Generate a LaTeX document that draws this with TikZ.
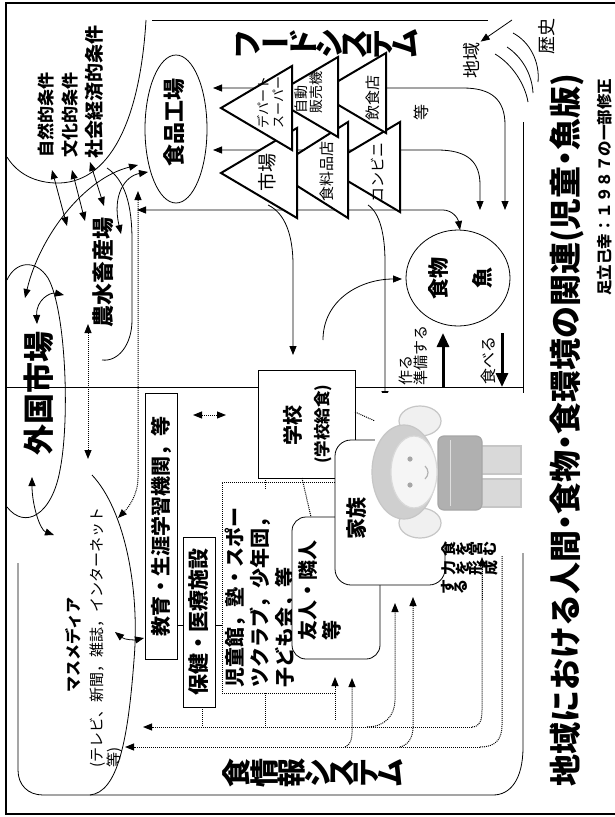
\documentclass[tikz,border=0pt]{standalone}
\usepackage{fontspec}
\usepackage{graphicx}
\newfontfamily\jp{Noto Sans CJK JP}
\usetikzlibrary{arrows.meta}
\newcommand\sz[2]{\fontsize{#1}{#2}\selectfont}
\newcommand\R[1]{\rotatebox[origin=c]{90}{#1}}
\newcommand\hdot{\makebox[0.5em]{・}}
\begin{document}
\begin{tikzpicture}[x=1pt,y=-1pt,line width=0.8pt,
  lab/.style={rotate=90,inner sep=0pt,font=\jp\bfseries},
  thinlab/.style={rotate=90,inner sep=0pt,font=\jp},
  vlab/.style={inner sep=0pt,font=\jp\bfseries},
  tip/.style={-{Triangle[length=9pt,width=7pt]}},
  tips/.style={{Triangle[length=9pt,width=7pt]}-{Triangle[length=9pt,width=7pt]}},
  dots/.style={line width=1pt,dash pattern=on 1pt off 1pt},
  dtip/.style={dots,-{Triangle[length=9pt,width=7pt]}},
  dtips/.style={dots,{Triangle[length=9pt,width=7pt]}-{Triangle[length=9pt,width=7pt]}},
  tri/.style={draw,fill=white,line width=2pt,line join=miter},
  bigtip/.style={line width=3pt,-{Triangle[length=14pt,width=12pt]}},
]
\useasboundingbox (0,0) rectangle (614,817);

% ---------- frames and dividing lines ----------
\draw (152,20) -- (488,20);
\draw (523,122) -- (523,403);
\draw (523,550) -- (523,747) .. controls (523,780) and (510,795) .. (493,795) -- (43,795)
      .. controls (28,795) and (18,785) .. (18,770) -- (18,563);
\draw (7,387) -- (523,387);

% region of natural / cultural / socio-economic conditions
\draw (146,20) .. controls (140,120) and (110,185) .. (55,183) .. controls (30,182) and (15,170) .. (7,157);
% foreign market enclosure
\draw (7,280) .. controls (15,262) and (35,258) .. (48,278) .. controls (66,310) and (70,420) .. (60,470)
      .. controls (52,515) and (25,530) .. (7,507);
% farm enclosure (open arc)
\draw (107,168) .. controls (125,180) and (132,205) .. (132,240) -- (132,320) .. controls (132,345) and (118,362) .. (102,360);
% mass media enclosure
\draw (92,475) .. controls (125,510) and (140,590) .. (134,660) .. controls (128,740) and (118,792) .. (90,795);

% ---------- history / region ----------
\node[thinlab,font=\jp\sz{18}{18}] (hist) at (547,36) {歴史};
\node[thinlab,font=\jp\sz{18}{18}] (area) at (472,60) {地域};
\draw[tip] (512,20) -- (area.south east);
\draw (513,33) .. controls (530,42) and (540,62) .. (538,82);
\draw (507,47) .. controls (522,57) and (532,74) .. (533,93);
\draw (495,54) .. controls (512,64) and (525,84) .. (528,102);

% ---------- titles ----------
\node[lab,font=\jp\bfseries\sz{32}{32}] (title) at (567,430) {地域における人間\hdot 食物\hdot 食環境の関連(児童\hdot 魚版)};
\node[lab,font=\jp\bfseries\sz{15.5}{15.5}] (src) at (605,187) {足立己幸：１９８７の一部修正};
\node[vlab,font=\jp\bfseries\sz{30}{30}] (fsys) at (327,44) {\R{フ}ー\R{ド}\R{シ}\R{ス}\R{テ}\R{ム}};
\node[vlab,font=\jp\bfseries\sz{29}{29}] (isys) at (313,773) {\R{食}\R{情}\R{報}\R{シ}\R{ス}\R{テ}\R{ム}};

% ---------- food system lines (behind the triangles) ----------
\draw[tips] (213,88) -- (463,88) .. controls (492,88) and (505,100) .. (505,125) -- (505,210);
\draw[tips] (213,150) -- (437,150) .. controls (468,150) and (480,162) .. (480,185) -- (480,210);
\draw[tips] (137,210) -- (443,210) .. controls (452,210) and (458,218) .. (460,230);
\draw[tip] (268,205) .. controls (285,213) and (293,235) .. (293,265) -- (293,355);
\draw[tip] (368,205) .. controls (380,213) and (385,235) .. (385,262) -- (385,400);

% ---------- triangles ----------
\draw[tri] (400,122) -- (400,212) -- (324,167) -- cycle;
\draw[tri] (348,122) -- (348,218) -- (272,170) -- cycle;
\draw[tri] (297,128) -- (297,218) -- (221,173) -- cycle;
\draw[tri] (386,53) -- (386,133) -- (318,93) -- cycle;
\draw[tri] (338,57) -- (338,137) -- (270,97) -- cycle;
\draw[tri] (292,66) -- (292,150) -- (221,108) -- cycle;
\node[thinlab,font=\jp\sz{13}{15},align=left,anchor=north west] (dept) at (257,129) {デパート\\スーパー};
\node[thinlab,font=\jp\sz{14}{15},align=left,anchor=north west] (vend) at (294,114) {自動\\販売機};
\node[thinlab,font=\jp\sz{15}{15}] (rest) at (373,98) {飲食店};
\node[thinlab,font=\jp\sz{19}{19}] (mkt) at (267,172) {市場};
\node[thinlab,font=\jp\sz{15}{15}] (groc) at (327,171) {食料品店};
\node[thinlab,font=\jp\sz{15}{15}] (conv) at (377,172) {コンビニ};
\node[thinlab,font=\jp\sz{16}{16}] (etc1) at (421,112) {等};

% ---------- food factory ----------
\draw (176,129) ellipse [x radius=31, y radius=74];
\node[lab,font=\jp\bfseries\sz{22}{22}] (fac) at (174,122) {食品工場};

% ---------- conditions ----------
\node[lab,font=\jp\bfseries\sz{17}{17}] (nat) at (46,115) {自然的条件};
\node[lab,font=\jp\bfseries\sz{17}{17}] (cul) at (70,115) {文化的条件};
\node[lab,font=\jp\bfseries\sz{19}{19}] (soc) at (94,92) {社会経済的条件};
\draw[tips] (52,170) -- (67,226);
\draw[tips] (72,170) -- (85,221);
\draw[tips] (90,162) -- (104,206);
\draw[tips] (25,298) .. controls (40,235) and (85,178) .. (138,165);
\draw[tips] (121,234) .. controls (112,195) and (125,176) .. (148,172);

% ---------- farms / foreign market ----------
\node[lab,font=\jp\bfseries\sz{22}{22}] (farm) at (103,272) {農水畜産場};
\node[lab,font=\jp\bfseries\sz{31}{31}] (fmkt) at (39,393) {外国市場};
\draw[tips] (37,324) .. controls (36,300) and (50,292) .. (64,295);
\draw[tips] (32,477) .. controls (32,505) and (40,530) .. (54,535);
\draw[dtips] (88,324) -- (88,459);
\draw[dtips] (138,191) -- (138,478) .. controls (138,495) and (128,508) .. (118,518);

% ---------- mass media ----------
\node[lab,font=\jp\bfseries\sz{16}{16}] (media) at (73,645) {マスメディア};
\node[thinlab,font=\jp\sz{15}{17},align=left,anchor=north west] (medl) at (89,768) {(テレビ、新聞，雑誌，インターネット\\等)};

% ---------- boxes ----------
\node[draw,fill=white,lab,font=\jp\bfseries\sz{20}{20},minimum width=266,minimum height=32] (edu) at (161,526) {教育・生涯学習機関，等};
\node[draw,fill=white,lab,font=\jp\bfseries\sz{21}{21},minimum width=170,minimum height=32] (hlth) at (199,622) {保健・医療施設};
\draw (177,625) -- (183,625);
\draw (215,625) -- (222,625);
\draw[tips] (115,632) .. controls (125,640) and (135,640) .. (144,638);
\draw[dtips] (193,415) -- (226,415);

% children's facilities (dotted frame)
\draw[dots] (335,482) -- (222,482) -- (222,693) -- (335,693);
\node[lab,font=\jp\bfseries\sz{20}{25},align=left,anchor=north west] (kids) at (225,688) {児童館，塾・スポー\\ツクラブ，少年団，\\子ども会，等};

% school
\draw[fill=white] (258,370) rectangle (355,478);
\node[lab,font=\jp\bfseries\sz{20}{20}] (sch) at (293,425) {学校};
\node[lab,font=\jp\bfseries\sz{16.5}{16.5}] (schl) at (323,424) {(学校給食)};

% friends
\draw[fill=white,rounded corners=14] (292,517) rectangle (380,659);
\node[lab,font=\jp\bfseries\sz{20}{24},align=left,anchor=north west] (frd) at (298,641) {友人・隣人\\等};

% family
\draw[fill=white,rounded corners=16] (335,440) rectangle (445,585);
\node[lab,font=\jp\bfseries\sz{21}{21}] (fam) at (357,518) {家族};

\draw[dots] (265,478) -- (265,490);
\draw[dots] (302,478) -- (311,517);
\draw[dots] (355,412) -- (375,421);

% ---------- food ----------
\draw (458,278) ellipse [x radius=52, y radius=48];
\node[lab,font=\jp\bfseries\sz{21}{21}] (food) at (438,278) {食物};
\node[lab,font=\jp\bfseries\sz{21}{21}] (fish) at (482,278) {魚};
\draw[tip] (323,340) .. controls (323,300) and (360,279) .. (402,279);
\node[thinlab,font=\jp\sz{15}{13},align=left,anchor=north west] (make) at (399,386) {作る\\準備する};
\node[thinlab,font=\jp\sz{16}{16}] (eat) at (488,360) {食べる};
\draw[bigtip] (443,387) -- (443,333);
\draw[bigtip] (502,333) -- (502,387);

% ---------- child (soft grey figure, lying along the page) ----------
\fill[white] (375,393) rectangle (527,553);
\begin{scope}[draw=gray!45,line width=1.2pt]
  % raised arms
  \filldraw[fill=gray!12] (420,421) ellipse [x radius=21, y radius=15];
  \filldraw[fill=gray!12] (420,523) ellipse [x radius=21, y radius=15];
  % legs
  \filldraw[fill=gray!30] (478,446) rectangle (521,474);
  \filldraw[fill=gray!30] (478,479) rectangle (521,507);
  % body
  \filldraw[fill=gray!62,draw=gray!70,rounded corners=6] (438,436) rectangle (482,510);
  \draw[gray!25,line width=1pt] (450,440) -- (450,506);
  % head with hair
  \filldraw[fill=gray!38] (404,472) ellipse [x radius=32, y radius=47];
  \filldraw[fill=gray!8,draw=gray!30] (414,472) ellipse [x radius=23, y radius=36];
  % face
  \fill[gray!70] (410,459) circle [radius=2.6];
  \fill[gray!70] (410,485) circle [radius=2.6];
  \draw[gray!60] (425,466) .. controls (429,470) and (429,475) .. (425,479);
\end{scope}

\node[vlab,font=\jp\bfseries\sz{15}{19},align=left,anchor=north west] (cap) at (441,541) {\R{食}\R{を}\R{営}\R{む}\\\R{力}\R{を}\R{形}\R{成}\\\R{す}\R{る}};

% ---------- information system (dotted) ----------
\draw[dtip] (472,727) -- (143,727);
\draw[dots] (472,727) .. controls (480,727) and (482,720) .. (482,710) -- (482,560);
\draw[dtip] (482,600) -- (482,557);
\draw[dtip] (480,747) -- (125,747);
\draw[dots] (480,747) .. controls (495,747) and (502,740) .. (502,725) -- (502,556);
\draw[dtip] (367,727) .. controls (385,727) and (395,715) .. (395,700) -- (395,603);
\draw[dtip] (400,747) .. controls (408,745) and (413,738) .. (413,727) -- (413,597);
\draw[dtip] (335,720) -- (335,677);
\draw[dtip] (345,747) .. controls (350,745) and (352,740) .. (352,733) -- (352,678);
\draw[dots] (202,707) -- (202,727);
\draw[dots] (265,693) -- (265,727);

% outer frame (its right side lies beyond the page edge)
\draw[line width=2.5pt] (616,3) -- (6,3) -- (6,814) -- (616,814);
\end{tikzpicture}
\end{document}
